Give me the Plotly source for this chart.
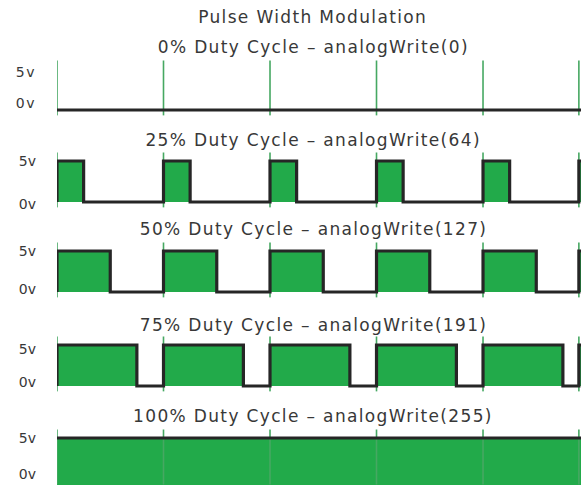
import plotly.graph_objects as go

# ---- data ----
duty_cycles = [0, 25, 50, 75, 100]            # percent
analog_values = [0, 64, 127, 191, 255]
cycle_starts = [0, 1, 2, 3, 4, 4.9]            # start time of each PWM cycle (in periods)
high_level = 5
low_level = 0
tick_labels = ["5v", "0v"]
main_title = "Pulse Width Modulation"

# ---- layout geometry (pixels) ----
W, H = 581, 485
x_left_px = 57
panel_levels_px = [(69, 110), (161, 202), (251, 292), (345, 386), (438, 479)]
tick_label_px = [(72, 103), (161, 204), (251, 289), (349, 382), (438, 474)]
subtitle_px = [47, 140, 229, 325, 416]
x_range = [0, 4.92]

GREEN = "#22AA4A"
MARK = "#46A862"
BLACK = "#262626"
TEXT = "#383838"
FONT = "DejaVu Sans"

fig = go.Figure()
layout_axes = {}
annotations = []

for i, (d, val) in enumerate(zip(duty_cycles, analog_values)):
    n = i + 1
    xa = "x" if n == 1 else f"x{n}"
    ya = "y" if n == 1 else f"y{n}"
    p5, p0 = panel_levels_px[i]
    spx = (p0 - p5) / (high_level - low_level)
    top_px = p5 - 9.8
    bot_px = H if n == len(duty_cycles) else p0 + 5.7
    y_range = [low_level - (bot_px - p0) / spx, high_level + (p5 - top_px) / spx]
    dom = [max(0, 1 - bot_px / H), min(1, 1 - top_px / H)]

    # build step waveform from duty cycle
    xs, ys = [], []
    frac = d / 100.0
    for k, s in enumerate(cycle_starts):
        e = cycle_starts[k + 1] if k + 1 < len(cycle_starts) else s + 1
        if frac <= 0:
            xs += [s, e]; ys += [low_level, low_level]
        elif frac >= 1:
            xs += [s, e]; ys += [high_level, high_level]
        else:
            t = min(s + frac, e)
            xs += [s, s, t, t, e]
            ys += [low_level, high_level, high_level, low_level, low_level]
    base = y_range[0] if d >= 100 else low_level
    fig.add_trace(go.Scatter(x=[xs[0], xs[-1]], y=[base, base], mode="lines",
                             line=dict(width=0), xaxis=xa, yaxis=ya,
                             showlegend=False, hoverinfo="skip"))
    fig.add_trace(go.Scatter(x=xs, y=ys, mode="lines", line=dict(width=0),
                             fill="tonexty", fillcolor=GREEN, xaxis=xa, yaxis=ya,
                             showlegend=False, hoverinfo="skip"))
    # period markers
    mx, my = [], []
    m_lo = low_level - 5.5 / spx
    m_hi = high_level + 8.5 / spx
    for s in cycle_starts:
        mx += [s, s, None]; my += [m_lo, m_hi, None]
    fig.add_trace(go.Scatter(x=mx, y=my, mode="lines", line=dict(color=MARK, width=1.6),
                             xaxis=xa, yaxis=ya, showlegend=False, hoverinfo="skip"))
    # outline
    fig.add_trace(go.Scatter(x=xs, y=ys, mode="lines", line=dict(color=BLACK, width=3.2),
                             xaxis=xa, yaxis=ya, showlegend=False, hoverinfo="skip"))

    lt5, lt0 = tick_label_px[i]
    tickvals = [low_level + (p0 - lt5) / spx, low_level + (p0 - lt0) / spx]
    xkey = "xaxis" if n == 1 else f"xaxis{n}"
    ykey = "yaxis" if n == 1 else f"yaxis{n}"
    layout_axes[xkey] = dict(domain=[x_left_px / W, 1], range=x_range, visible=False,
                             anchor=ya, fixedrange=True)
    layout_axes[ykey] = dict(domain=dom, range=y_range, anchor=xa, showgrid=False,
                             zeroline=False, showline=False, tickvals=tickvals,
                             ticktext=tick_labels, ticks="", ticklabelstandoff=20,
                             tickfont=dict(family=FONT, size=14, color=TEXT),
                             automargin=False, fixedrange=True)
    annotations.append(dict(text=f"{d}% Duty Cycle \u2013 analogWrite({val})",
                            x=313 / W, y=1 - subtitle_px[i] / H, xref="paper", yref="paper",
                            xanchor="center", yanchor="middle", showarrow=False,
                            font=dict(family=FONT, size=17, color=TEXT)))

annotations.append(dict(text=main_title, x=312 / W, y=1 - 17 / H, xref="paper", yref="paper",
                        xanchor="center", yanchor="middle", showarrow=False,
                        font=dict(family=FONT, size=17, color=TEXT)))

fig.update_layout(width=W, height=H, margin=dict(l=0, r=0, t=0, b=0),
                  plot_bgcolor="white", paper_bgcolor="white",
                  annotations=annotations, **layout_axes)

post = """
document.body.style.margin='0';
document.body.style.overflow='hidden';
document.querySelectorAll('.annotation-text').forEach(function(t){t.style.letterSpacing='1.35px';});
document.querySelectorAll('.ytick text').forEach(function(t){t.style.letterSpacing='1.5px';});
"""

fig.write_html("out.html", post_script=post, config={"displayModeBar": False})
